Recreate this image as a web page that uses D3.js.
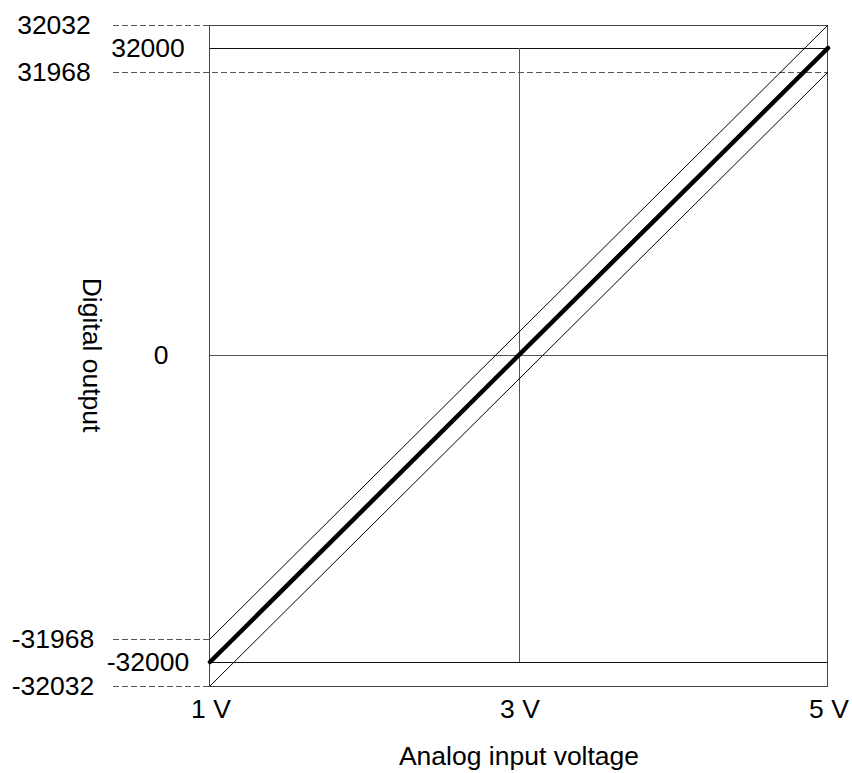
<!DOCTYPE html>
<html>
<head>
<meta charset="utf-8">
<script src="https://cdn.jsdelivr.net/npm/d3@7/dist/d3.min.js"></script>
<style>
  html, body { margin: 0; padding: 0; background: #fff; }
  text { font-family: "Liberation Sans", Arial, sans-serif; fill: #000; }
</style>
</head>
<body>
<svg id="chart" width="852" height="773"></svg>
<script>
// ---- data ----
const xValues = [1, 3, 5];
const xTickLabels = ["1 V", "3 V", "5 V"];
const yTickValues = [32032, 32000, 31968, 0, -31968, -32000, -32032];
const yTickLabels = ["32032", "32000", "31968", "0", "-31968", "-32000", "-32032"];
const idealLine = [[1, -32000], [5, 32000]];
const upperLimit = [[1, -31968], [5, 32032]];
const lowerLimit = [[1, -32032], [5, 31968]];
const xTitle = "Analog input voltage";
const yTitle = "Digital output";

// ---- layout ----
const svg = d3.select("#chart");
const x = d3.scaleLinear().domain([1, 5]).range([210, 828]);
// schematic (non-uniform) vertical scale, as in the original diagram
const y = d3.scaleLinear()
  .domain([-32032, -32000, -31968, 0, 31968, 32000, 32032])
  .range([686, 662, 639, 355, 72, 48, 25]);

const gridColor = "#444";
const fontSize = "26.5px";

// dashed leader lines (from label area to frame)
const dashStart = 113;
const dashed = [
  {v: 32032, x2: x(1)},
  {v: 31968, x2: x(5)},
  {v: -31968, x2: x(1)},
  {v: -32032, x2: x(1)}
];
svg.selectAll("line.dash").data(dashed).enter().append("line")
  .attr("class", "dash")
  .attr("x1", dashStart).attr("x2", d => d.x2)
  .attr("y1", d => Math.round(y(d.v)) + 0.5).attr("y2", d => Math.round(y(d.v)) + 0.5)
  .attr("stroke", "#555").attr("stroke-width", 1).attr("stroke-dasharray", "6,3");

// solid horizontal lines
[32000, 0, -32000].forEach(v => {
  svg.append("line")
    .attr("x1", x(1)).attr("x2", x(5))
    .attr("y1", Math.round(y(v)) + 0.5).attr("y2", Math.round(y(v)) + 0.5)
    .attr("stroke", v === 0 ? "#555" : "#111").attr("stroke-width", 1);
});

// vertical line at 3 V
svg.append("line")
  .attr("x1", Math.round(x(3)) + 0.5).attr("x2", Math.round(x(3)) + 0.5)
  .attr("y1", y(32000)).attr("y2", y(-32000))
  .attr("stroke", "#555").attr("stroke-width", 1);

// frame
svg.append("rect")
  .attr("x", x(1) - 0.5).attr("y", Math.round(y(32032)) + 0.5)
  .attr("width", x(5) - x(1)).attr("height", Math.round(y(-32032)) - Math.round(y(32032)))
  .attr("fill", "none").attr("stroke", gridColor).attr("stroke-width", 1);

// lines
const lineGen = d3.line().x(d => x(d[0])).y(d => y(d[1]));
svg.append("path").datum(upperLimit).attr("d", lineGen)
  .attr("fill", "none").attr("stroke", "#000").attr("stroke-width", 1);
svg.append("path").datum(lowerLimit).attr("d", lineGen)
  .attr("fill", "none").attr("stroke", "#000").attr("stroke-width", 1);
svg.append("path").datum(idealLine).attr("d", lineGen)
  .attr("fill", "none").attr("stroke", "#000").attr("stroke-width", 4.5)
  .attr("stroke-linecap", "round");

// y tick labels
const labelX = {"32032": 54, "31968": 54, "-31968": 53, "-32032": 53, "32000": 148, "-32000": 148, "0": 161};
svg.selectAll("text.ytick").data(yTickValues).enter().append("text")
  .attr("class", "ytick")
  .attr("x", (d, i) => labelX[yTickLabels[i]])
  .attr("y", d => y(d) + 9)
  .attr("text-anchor", "middle")
  .style("font-size", fontSize)
  .text((d, i) => yTickLabels[i]);

// x tick labels
svg.selectAll("text.xtick").data(xValues).enter().append("text")
  .attr("class", "xtick")
  .attr("x", d => x(d) + 1)
  .attr("y", 718)
  .attr("text-anchor", "middle")
  .style("font-size", fontSize)
  .text((d, i) => xTickLabels[i]);

// axis titles
svg.append("text")
  .attr("x", 519).attr("y", 765)
  .attr("text-anchor", "middle")
  .style("font-size", fontSize)
  .text(xTitle);

svg.append("text")
  .attr("transform", "translate(83,355) rotate(90)")
  .attr("text-anchor", "middle")
  .style("font-size", fontSize)
  .text(yTitle);
</script>
</body>
</html>
